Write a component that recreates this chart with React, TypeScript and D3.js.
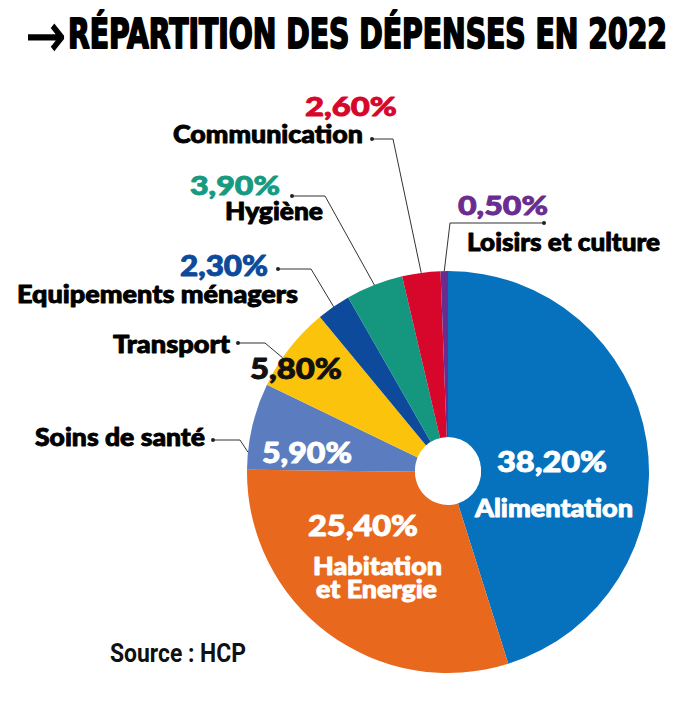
import React from "react";
import * as d3 from "d3";

const categories = [
  "Alimentation",
  "Habitation et Energie",
  "Soins de santé",
  "Transport",
  "Equipements ménagers",
  "Hygiène",
  "Communication",
  "Loisirs et culture",
];
const values = [38.2, 25.4, 5.9, 5.8, 2.3, 3.9, 2.6, 0.5];
const colors = ["#0672bd", "#e8691e", "#5b7cbe", "#fcc30c", "#0d4a9b", "#15977f", "#d7062b", "#6a2d8f"];
const titleArrow = "→";
const titleText = "RÉPARTITION DES DÉPENSES EN 2022";
const source = "Source : HCP";

const W = 696;
const H = 713;
const cx = 448;
const cy = 472;
const R = 201;
const r0 = 33;

const fmt = (v: number) => d3.format(".2f")(v).replace(".", ",") + "%";

// text box: [x-left, baseline, width, fontSize]
type Box = [number, number, number, number];

// inner labels (white)
const innerLayout: Record<number, { pct: Box; lines: string[]; boxes: Box[] }> = {
  0: { pct: [497, 472, 110, 29], lines: ["Alimentation"], boxes: [[475, 517, 158, 25]] },
  1: { pct: [308, 536, 110, 29], lines: ["Habitation", "et Energie"], boxes: [[313, 575, 129, 25], [316, 598, 121, 25]] },
  2: { pct: [262, 463, 90, 28], lines: [], boxes: [] },
};

type Outer = {
  pct: Box | null;
  pctColor: string;
  name: Box;
  dot: [number, number];
  elbow: [number, number];
  frac: number;
};
const outerLayout: Record<number, Outer> = {
  2: { pct: null, pctColor: "", name: [35, 446, 170, 25], dot: [213, 440], elbow: [240, 440], frac: 0.2 },
  3: { pct: [250, 379, 92, 29], pctColor: "#111", name: [113, 353, 117, 25], dot: [238, 343], elbow: [265, 343], frac: 0.36 },
  4: { pct: [180, 276, 88, 28], pctColor: "#0d4a9b", name: [17, 303, 281, 25], dot: [278, 269], elbow: [311, 269], frac: 0.5 },
  5: { pct: [190, 195, 90, 27], pctColor: "#169a80", name: [225, 220, 98, 25], dot: [292, 196], elbow: [325, 196], frac: 0.5 },
  6: { pct: [305, 116, 92, 27], pctColor: "#d7062b", name: [173, 143, 190, 25], dot: [372, 139], elbow: [393, 139], frac: 0.5 },
  7: { pct: [458, 215, 90, 27], pctColor: "#6a2d8f", name: [467, 251, 193, 25], dot: [544, 223], elbow: [450, 223], frac: 0.5 },
};

const FONT = "Lato, 'Open Sans', sans-serif";

function Label({ box, text, fill }: { box: Box; text: string; fill: string }) {
  return (
    <text
      x={box[0]}
      y={box[1]}
      fontFamily={FONT}
      fontWeight={900}
      fontSize={box[3]}
      textLength={box[2]}
      lengthAdjust="spacingAndGlyphs"
      fill={fill}
      stroke={fill}
      strokeWidth={0.9}
      strokeLinejoin="round"
    >
      {text}
    </text>
  );
}

export default function App() {
  const pie = d3.pie<number>().sort(null).value((d) => d);
  const arcs = pie(values);
  const arc = d3.arc<d3.PieArcDatum<number>>().innerRadius(r0).outerRadius(R);

  const leaderEnd = (i: number) => {
    const a = arcs[i];
    const o = outerLayout[i];
    const ang = a.startAngle + (a.endAngle - a.startAngle) * o.frac;
    return [cx + R * Math.sin(ang), cy - R * Math.cos(ang)];
  };

  return (
    <svg
      width={W}
      height={H}
      viewBox={`0 0 ${W} ${H}`}
      style={{ position: "absolute", left: 0, top: 0, background: "#fff" }}
    >
      <rect x={0} y={0} width={W} height={H} fill="#fff" />
      <text
        x={26}
        y={56}
        fontFamily="'DejaVu Sans', sans-serif"
        fontWeight={400}
        fontSize={60}
        textLength={40}
        lengthAdjust="spacingAndGlyphs"
        fill="#000"
        stroke="#000"
        strokeWidth={1.4}
      >
        {titleArrow}
      </text>
      <text
        x={68}
        y={48}
        fontFamily="'Liberation Sans Narrow', 'DejaVu Sans Condensed', sans-serif"
        fontWeight={700}
        fontSize={40}
        textLength={599}
        lengthAdjust="spacingAndGlyphs"
        fill="#000"
        stroke="#000"
        strokeWidth={1.8}
        strokeLinejoin="round"
      >
        {titleText}
      </text>

      <g transform={`translate(${cx},${cy})`}>
        {arcs.map((a, i) => (
          <path key={i} d={arc(a) || ""} fill={colors[i]} />
        ))}
      </g>

      {Object.keys(outerLayout).map((k) => {
        const i = +k;
        const o = outerLayout[i];
        const [ex, ey] = leaderEnd(i);
        return (
          <g key={"o" + i}>
            <polyline
              points={`${o.dot[0]},${o.dot[1]} ${o.elbow[0]},${o.elbow[1]} ${ex},${ey}`}
              fill="none"
              stroke="#333"
              strokeWidth={1}
            />
            <circle cx={o.dot[0]} cy={o.dot[1]} r={2} fill="#222" />
            {o.pct && <Label box={o.pct} text={fmt(values[i])} fill={o.pctColor} />}
            <Label box={o.name} text={categories[i]} fill="#000" />
          </g>
        );
      })}

      {Object.keys(innerLayout).map((k) => {
        const i = +k;
        const l = innerLayout[i];
        return (
          <g key={"i" + i}>
            <Label box={l.pct} text={fmt(values[i])} fill="#fff" />
            {l.lines.map((s, j) => (
              <Label key={j} box={l.boxes[j]} text={s} fill="#fff" />
            ))}
          </g>
        );
      })}

      <circle cx={cx} cy={cy - 2} r={r0} fill="#fff" />

      <text
        x={110}
        y={662}
        fontFamily="Roboto, 'Open Sans', sans-serif"
        fontWeight={700}
        fontSize={25}
        textLength={136}
        lengthAdjust="spacingAndGlyphs"
        fill="#111"
      >
        {source}
      </text>
    </svg>
  );
}
